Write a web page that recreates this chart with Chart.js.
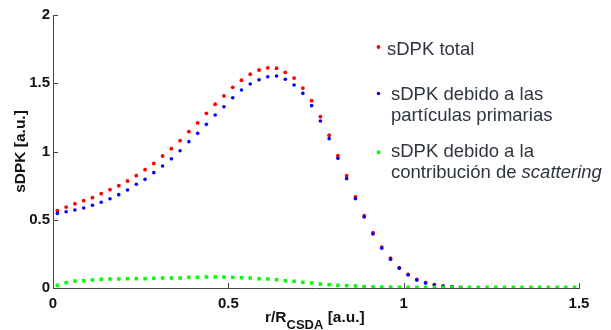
<!DOCTYPE html>
<html><head><meta charset="utf-8">
<script src="https://cdn.jsdelivr.net/npm/chart.js@4.4.0/dist/chart.umd.min.js"></script>
<style>html,body{margin:0;padding:0;background:#fff;overflow:hidden}#wrap{position:relative;width:611px;height:330px}</style>
</head><body><div id="wrap"><canvas id="c" width="611" height="330"></canvas></div>
<script>
const xValues = [0.0125,0.0375,0.0625,0.0875,0.1125,0.1375,0.1625,0.1875,0.2125,0.2375,0.2625,0.2875,0.3125,0.3375,0.3625,0.3875,0.4125,0.4375,0.4625,0.4875,0.5125,0.5375,0.5625,0.5875,0.6125,0.6375,0.6625,0.6875,0.7125,0.7375,0.7625,0.7875,0.8125,0.8375,0.8625,0.8875,0.9125,0.9375,0.9625,0.9875,1.0125,1.0375,1.0625,1.0875,1.1125,1.1375,1.1625,1.1875,1.2125,1.2375,1.2625,1.2875,1.3125,1.3375,1.3625,1.3875,1.4125,1.4375,1.4625,1.4875];
const totalValues = [0.566,0.593,0.618,0.640,0.662,0.691,0.720,0.749,0.784,0.823,0.867,0.913,0.967,1.021,1.079,1.145,1.209,1.280,1.346,1.407,1.470,1.522,1.566,1.597,1.613,1.610,1.580,1.538,1.465,1.372,1.255,1.119,0.969,0.823,0.667,0.530,0.405,0.300,0.218,0.150,0.100,0.063,0.040,0.025,0.016,0.010,0.005];
const primaryValues = [0.547,0.559,0.571,0.586,0.606,0.628,0.654,0.684,0.718,0.760,0.796,0.845,0.894,0.946,1.006,1.072,1.133,1.199,1.267,1.328,1.394,1.451,1.495,1.526,1.548,1.553,1.529,1.487,1.426,1.336,1.223,1.094,0.950,0.801,0.654,0.520,0.396,0.292,0.210,0.144,0.096,0.058,0.036,0.022,0.013,0.008,0.004];
const scatterValues = [0.020,0.039,0.051,0.053,0.059,0.064,0.066,0.066,0.068,0.068,0.068,0.071,0.073,0.073,0.073,0.078,0.078,0.081,0.081,0.080,0.078,0.075,0.073,0.068,0.066,0.061,0.053,0.049,0.042,0.037,0.029,0.024,0.020,0.017,0.015,0.010,0.008,0.007,0.006,0.005,0.005,0.005,0.005,0.005,0.005,0.005,0.005,0.005,0.005,0.005,0.005,0.005,0.005,0.005,0.005,0.005,0.005,0.005,0.005,0.005];
const xTickValues = [0, 0.5, 1, 1.5];
const xTickLabels = ['0', '0.5', '1', '1.5'];
const yTickValues = [0, 0.5, 1, 1.5, 2];
const yTickLabels = ['0', '0.5', '1', '1.5', '2'];
const legendLabels = [['sDPK total'], ['sDPK debido a las', 'partículas primarias'], ['sDPK debido a la', 'contribución de ', 'scattering']];
const yTitle = 'sDPK [a.u.]';
const xTitleParts = ['r/R', 'CSDA', ' [a.u.]'];

function pts(arr) { return xValues.map((x, i) => ({x: x, y: arr[i]})).filter(p => p.y !== undefined && p.y !== null); }

const FONT = '"Liberation Sans", Arial, Helvetica, sans-serif';

const decor = {
  id: 'decor',
  beforeDatasetsDraw(chart) {
    const ctx = chart.ctx, a = chart.chartArea, xs = chart.scales.x, ys = chart.scales.y;
    ctx.save();
    ctx.strokeStyle = '#444'; ctx.lineWidth = 1;
    ctx.beginPath();
    xs.ticks.forEach(t => { const px = Math.round(xs.getPixelForValue(t.value)) + 0.5; ctx.moveTo(px, a.bottom); ctx.lineTo(px, a.bottom - 5); });
    ys.ticks.forEach(t => { const py = Math.round(ys.getPixelForValue(t.value)) + 0.5; ctx.moveTo(a.left, py); ctx.lineTo(a.left + 5, py); });
    ctx.stroke();
    ctx.restore();
  },
  afterDraw(chart) {
    const ctx = chart.ctx, a = chart.chartArea;
    ctx.save();
    ctx.fillStyle = '#111';
    ctx.save();
    ctx.translate(25, (a.top + a.bottom) / 2);
    ctx.rotate(-Math.PI / 2);
    ctx.font = 'bold 15.5px ' + FONT;
    ctx.textAlign = 'center'; ctx.textBaseline = 'alphabetic';
    ctx.fillText(yTitle, 0, 0);
    ctx.restore();
    const mainF = 'bold 15.5px ' + FONT, subF = 'bold 13px ' + FONT;
    ctx.font = mainF; const w1 = ctx.measureText(xTitleParts[0]).width, w3 = ctx.measureText(xTitleParts[2]).width;
    ctx.font = subF; const w2 = ctx.measureText(xTitleParts[1]).width;
    let x0 = 265;
    ctx.textAlign = 'left'; ctx.textBaseline = 'alphabetic';
    ctx.font = mainF; ctx.fillText(xTitleParts[0], x0, 322);
    ctx.font = subF; ctx.fillText(xTitleParts[1], x0 + w1, 329);
    ctx.font = mainF; ctx.fillText(xTitleParts[2], x0 + w1 + w2, 322);
    ctx.fillStyle = '#2f3540';
    ctx.font = '18.5px ' + FONT;
    ctx.fillText(legendLabels[0][0], 387, 55);
    ctx.fillText(legendLabels[1][0], 391, 100);
    ctx.fillText(legendLabels[1][1], 391, 121);
    ctx.fillText(legendLabels[2][0], 391, 157);
    ctx.fillText(legendLabels[2][1], 391, 178);
    const wc = ctx.measureText(legendLabels[2][1]).width;
    ctx.font = 'italic 18.5px ' + FONT;
    ctx.fillText(legendLabels[2][2], 391 + wc, 178);
    ctx.fillStyle = '#ff0000'; ctx.beginPath(); ctx.arc(378.5, 47, 1.9, 0, Math.PI * 2); ctx.fill();
    ctx.fillStyle = '#0000ff'; ctx.beginPath(); ctx.arc(378.5, 93.5, 1.8, 0, Math.PI * 2); ctx.fill();
    ctx.fillStyle = '#00ff00'; ctx.fillRect(376.8, 150.5, 3.5, 3.5);
    ctx.restore();
  }
};

new Chart(document.getElementById('c'), {
  type: 'scatter',
  data: {
    datasets: [
      {label: legendLabels[2].join(''), data: pts(scatterValues), pointStyle: 'rect', pointRadius: 2.5, backgroundColor: '#00ff00', borderWidth: 0, order: 0},
      {label: legendLabels[1].join(' '), data: pts(primaryValues), pointStyle: 'circle', pointRadius: 1.8, backgroundColor: '#0000ff', borderWidth: 0, order: 1},
      {label: legendLabels[0][0], data: pts(totalValues), pointStyle: 'circle', pointRadius: 1.9, backgroundColor: '#ff0000', borderWidth: 0, order: 2}
    ]
  },
  options: {
    responsive: false, animation: false, devicePixelRatio: 1,
    layout: {padding: {left: 0, top: 15, right: 32, bottom: 0}},
    plugins: {legend: {display: false}, tooltip: {enabled: false}},
    scales: {
      x: {
        type: 'linear', min: 0, max: 1.5,
        afterBuildTicks: s => { s.ticks = xTickValues.map(v => ({value: v})); },
        afterFit: s => { s.height = 42; },
        grid: {display: false, drawTicks: false},
        border: {display: true, color: '#444', width: 1},
        ticks: {padding: 7, color: '#111', font: {family: FONT, size: 15, weight: 'bold'}, maxRotation: 0,
          callback: v => xTickLabels[xTickValues.indexOf(v)]}
      },
      y: {
        type: 'linear', min: 0, max: 2,
        afterBuildTicks: s => { s.ticks = yTickValues.map(v => ({value: v})); },
        afterFit: s => { s.width = 53; },
        grid: {display: false, drawTicks: false},
        border: {display: true, color: '#444', width: 1},
        ticks: {padding: 3, color: '#111', font: {family: FONT, size: 15, weight: 'bold'},
          callback: v => yTickLabels[yTickValues.indexOf(v)]}
      }
    }
  },
  plugins: [decor]
});
</script></body></html>
